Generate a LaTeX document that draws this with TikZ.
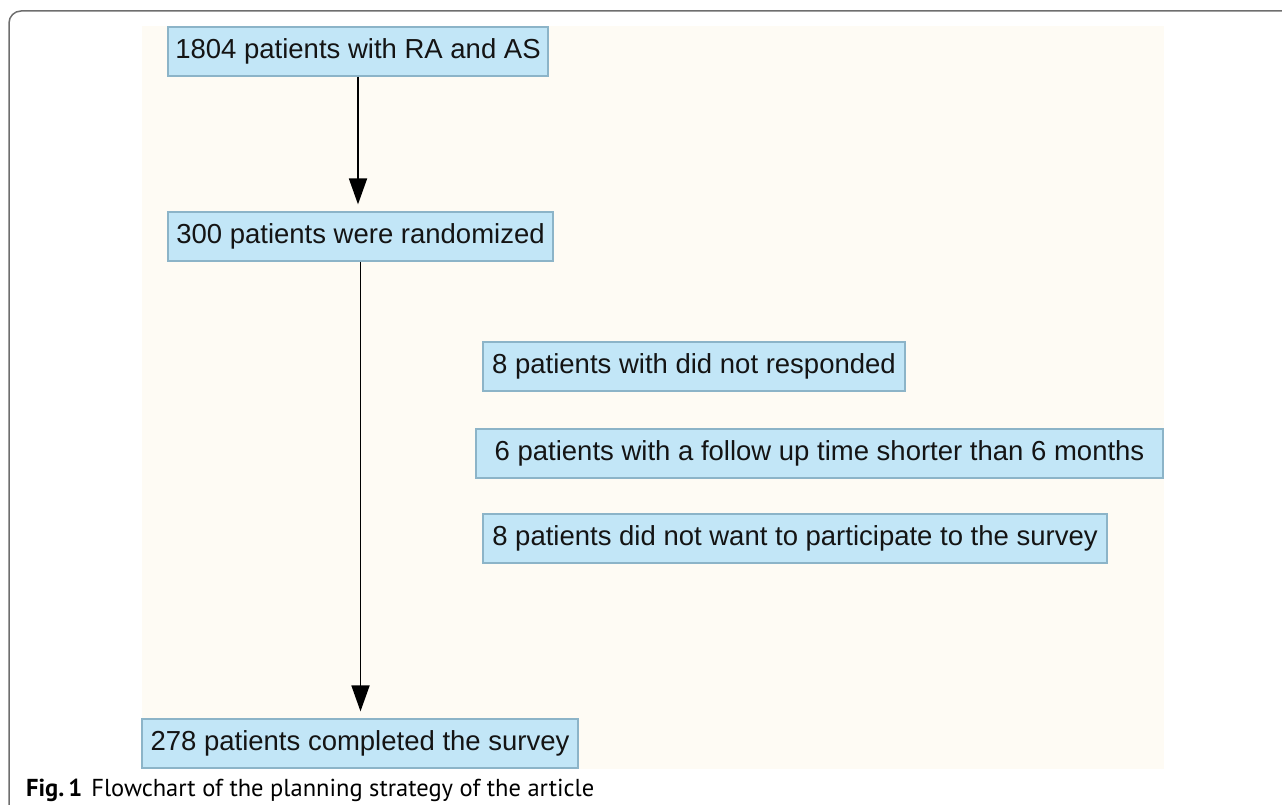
\documentclass[tikz,border=0pt]{standalone}
\usepackage{fontspec}
\setmainfont{Liberation Sans}
\newfontfamily\capfont{PT Sans}
\usetikzlibrary{arrows.meta}
\definecolor{boxfill}{RGB}{194,230,247}
\definecolor{boxline}{RGB}{140,180,200}
\definecolor{bgbeige}{RGB}{254,251,244}
\definecolor{framegray}{RGB}{110,110,110}
\tikzset{
  flowbox/.style={draw=boxline, line width=1.2pt, fill=boxfill, inner xsep=0pt, inner ysep=0pt,
    minimum height=49pt, align=center, font=\fontsize{27.5pt}{30pt}\selectfont, text=black!92},
  flowarrow/.style={line width=1.8pt, -{Triangle[length=26pt,width=18pt]}, shorten >=7pt}
}
\begin{document}
\begin{tikzpicture}[x=1pt,y=-1pt]
\useasboundingbox (0,0) rectangle (1282,805);
% frame
\draw[framegray, line width=1.5pt, rounded corners=12pt] (9,806) -- (9,11) -- (1283,11);
% background panel
\fill[bgbeige] (142,26) rectangle (1164,769);
% boxes
\node[flowbox, minimum width=380pt] (n1) at (358,51.5) {1804 patients with RA and AS};
\node[flowbox, minimum width=385pt] (n2) at (360.5,236.5) {300 patients were randomized};
\node[flowbox, minimum width=422pt] (nA) at (694,366.5) {8 patients with did not responded};
\node[flowbox, minimum width=687pt] (nB) at (819.5,453.5) {6 patients with a follow up time shorter than 6 months};
\node[flowbox, minimum width=624pt] (nC) at (795,538.5) {8 patients did not want to participate to the survey};
\node[flowbox, minimum width=436pt] (n3) at (360,743.5) {278 patients completed the survey};
% arrows
\draw[flowarrow] (n1.south) -- (n1.south |- n2.north);
\draw[flowarrow] (n2.south) -- (n2.south |- n3.north);
% caption
\node[anchor=base west, inner sep=0pt, font=\capfont\fontsize{24.5pt}{27pt}\selectfont] (cap) at (26,796)
  {\textbf{Fig.\,1}\hspace{9pt}Flowchart of the planning strategy of the article};
\end{tikzpicture}
\end{document}
